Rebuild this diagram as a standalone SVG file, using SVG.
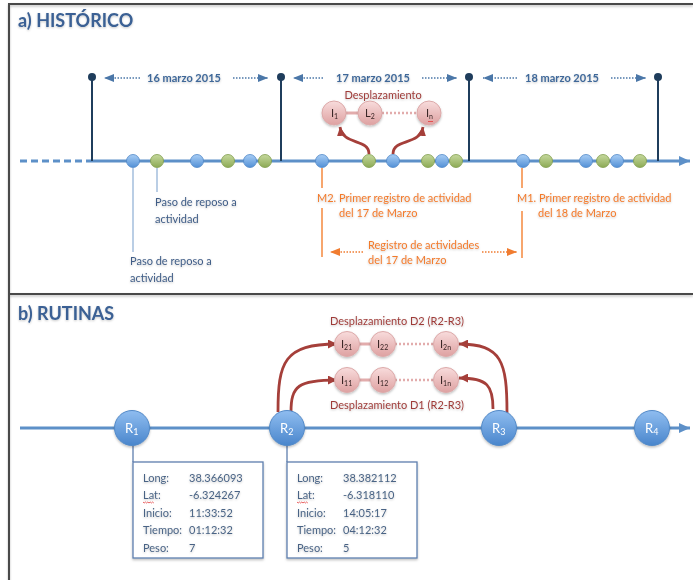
<svg xmlns="http://www.w3.org/2000/svg" width="693" height="580" viewBox="0 0 693 580">
<defs>
<style>
text{font-family:Lato,"Liberation Sans",sans-serif}
.title{font-size:18px;font-weight:bold;fill:#3a6094}
.date{font-size:11px;font-weight:bold;fill:#3f6899}
.lbl{font-size:11px;fill:#3f5c86}
.or{font-size:11px;fill:#f27a2c}
.red{font-size:11px;fill:#9e3b38}
.nt{font-size:11px;fill:#3a2626}
.rt{font-size:13px;fill:#ffffff}
.bx{font-size:11px;fill:#4a6485}
.post{stroke:#1f3d5c;stroke-width:2;fill:none}
.pdot{fill:#1f3d5c}
.tl{stroke:#5d90c8;stroke-width:3;fill:none}
.darr{stroke:#4b77a8;stroke-width:1.3;stroke-dasharray:1.5 1.5;fill:none}
.oarr{stroke:#f07c30;stroke-width:1.3;stroke-dasharray:1.5 1.5;fill:none}
.oline{stroke:#f5893f;stroke-width:1.5;fill:none}
.lb{stroke:#a4bedd;stroke-width:1.5;fill:none}
.rc{stroke:#a53f3a;stroke-width:2.8;fill:none}
.bdot{fill:url(#gb);stroke:#4f86c6;stroke-width:0.8}
.gdot{fill:url(#gg);stroke:#7f9c4a;stroke-width:0.8}
.pk{fill:url(#gp);stroke:#dca9a9;stroke-width:1}
.rn{fill:url(#gr);stroke:#5289c7;stroke-width:1}
.pl{stroke:#e2acac;stroke-width:3;fill:none}
.pld{stroke:#e2acac;stroke-width:2.5;stroke-dasharray:2 2;fill:none}
.box{fill:#ffffff;stroke:#5f7fae;stroke-width:1.3}
.frame{stroke:#4a4a4a;stroke-width:2;fill:none}
.sq{stroke:#e23a3a;stroke-width:0.8;fill:none}
</style>
<linearGradient id="gb" x1="0" y1="0" x2="0" y2="1"><stop offset="0" stop-color="#a9cef5"/><stop offset="1" stop-color="#5290d6"/></linearGradient>
<linearGradient id="gg" x1="0" y1="0" x2="0" y2="1"><stop offset="0" stop-color="#c6d99e"/><stop offset="1" stop-color="#8caa55"/></linearGradient>
<linearGradient id="gp" x1="0" y1="0" x2="0" y2="1"><stop offset="0" stop-color="#f8dcdc"/><stop offset="1" stop-color="#dea1a1"/></linearGradient>
<linearGradient id="gr" x1="0" y1="0" x2="0" y2="1"><stop offset="0" stop-color="#8fbdf0"/><stop offset="1" stop-color="#4a86cc"/></linearGradient>
<filter id="sh" x="-20%" y="-20%" width="140%" height="140%"><feDropShadow dx="0" dy="1.5" stdDeviation="1.2" flood-color="#000" flood-opacity="0.25"/></filter>
<filter id="tsh" x="-10%" y="-30%" width="120%" height="160%"><feDropShadow dx="0" dy="1" stdDeviation="0.8" flood-color="#000" flood-opacity="0.22"/></filter>
<marker id="mtl" markerUnits="userSpaceOnUse" markerWidth="12" markerHeight="10" refX="11" refY="5" orient="auto"><path d="M0,0 L11,5 L0,10 z" fill="#5d90c8"/></marker>
<marker id="mda" markerUnits="userSpaceOnUse" markerWidth="10" markerHeight="8" refX="10" refY="4" orient="auto"><path d="M0,0 L10,4 L0,8 z" fill="#4b77a8"/></marker>
<marker id="moa" markerUnits="userSpaceOnUse" markerWidth="10" markerHeight="8" refX="10" refY="4" orient="auto"><path d="M0,0 L10,4 L0,8 z" fill="#f07c30"/></marker>
<marker id="mrc" markerUnits="userSpaceOnUse" markerWidth="10" markerHeight="9" refX="9" refY="4.5" orient="auto"><path d="M0,0 L9,4.5 L0,9 z" fill="#a53f3a"/></marker>
</defs>
<rect width="693" height="580" fill="#ffffff"/>

<!-- frame -->
<g id="frame" filter="url(#sh)">
<path class="frame" d="M693,4 L9,4 L9,580"/>
<path class="frame" d="M9,294 L693,294"/>
</g>

<!-- ===== Section a ===== -->
<g id="title-a"><text class="title" x="18" y="27" filter="url(#tsh)">a) HISTÓRICO</text></g>

<g id="connectors-a">
<path class="tl" d="M20,161 L92,161" stroke-dasharray="7 4"/>
<path class="tl" d="M92,161 L690,161" marker-end="url(#mtl)"/>
<path class="post" d="M92,77 V161 M281,77 V161 M469,77 V161 M658,77 V161"/>
<path class="darr" d="M140,78 L104,78" marker-end="url(#mda)"/>
<path class="darr" d="M233,78 L268,78" marker-end="url(#mda)"/>
<path class="darr" d="M323,78 L293,78" marker-end="url(#mda)"/>
<path class="darr" d="M422,78 L457,78" marker-end="url(#mda)"/>
<path class="darr" d="M517,78 L483,78" marker-end="url(#mda)"/>
<path class="darr" d="M611,78 L646,78" marker-end="url(#mda)"/>
<path class="lb" d="M133,168 V252 M157,168 V192"/>
<path class="oline" d="M322,168 V188 M322,208 V257 M522,168 V188 M522,211 V258"/>
<path class="oarr" d="M363,252 L330,252" marker-end="url(#moa)"/>
<path class="oarr" d="M482,252 L517,252" marker-end="url(#moa)"/>
<path class="pl" d="M346,113 L358,113"/>
<path class="pld" d="M382,113 L417,113"/>
<path class="rc" d="M369,154 C369,138 343,146 340,127" marker-end="url(#mrc)"/>
<path class="rc" d="M393,154 C393,138 420,146 423,127" marker-end="url(#mrc)"/>
</g>

<g id="posts-a">
<circle class="pdot" cx="92" cy="77" r="4"/>
<circle class="pdot" cx="281" cy="77" r="4"/>
<circle class="pdot" cx="469" cy="77" r="4"/>
<circle class="pdot" cx="658" cy="77" r="4"/>
</g>

<g id="dates-a" filter="url(#tsh)">
<text class="date" x="184" y="82" text-anchor="middle">16 marzo 2015</text>
<text class="date" x="373" y="82" text-anchor="middle">17 marzo 2015</text>
<text class="date" x="562" y="82" text-anchor="middle">18 marzo 2015</text>
</g>

<g id="events-a">
<circle class="bdot" cx="133" cy="161" r="6.5"/>
<circle class="gdot" cx="157" cy="161" r="6.5"/>
<circle class="bdot" cx="197" cy="161" r="6.5"/>
<circle class="gdot" cx="228" cy="161" r="6.5"/>
<circle class="bdot" cx="250" cy="161" r="6.5"/>
<circle class="gdot" cx="265" cy="161" r="6.5"/>
<circle class="bdot" cx="322" cy="161" r="6.5"/>
<circle class="gdot" cx="369" cy="161" r="6.5"/>
<circle class="bdot" cx="393" cy="161" r="6.5"/>
<circle class="gdot" cx="428" cy="161" r="6.5"/>
<circle class="bdot" cx="442" cy="161" r="6.5"/>
<circle class="gdot" cx="456" cy="161" r="6.5"/>
<circle class="bdot" cx="523" cy="161" r="6.5"/>
<circle class="gdot" cx="546" cy="161" r="6.5"/>
<circle class="bdot" cx="586" cy="161" r="6.5"/>
<circle class="gdot" cx="603" cy="161" r="6.5"/>
<circle class="bdot" cx="617" cy="161" r="6.5"/>
<circle class="gdot" cx="640" cy="161" r="6.5"/>
</g>

<g id="labels-a" filter="url(#tsh)">
<text class="lbl" x="155" y="206">Paso de reposo a</text>
<text class="lbl" x="155" y="223">actividad</text>
<text class="lbl" x="130" y="265">Paso de reposo a</text>
<text class="lbl" x="130" y="282">actividad</text>
<text class="or" x="317" y="202">M2. Primer registro de actividad</text>
<text class="or" x="339" y="217">del 17 de Marzo</text>
<text class="or" x="517" y="202">M1. Primer registro de actividad</text>
<text class="or" x="538" y="217">del 18 de Marzo</text>
<text class="or" x="368" y="249">Registro de actividades</text>
<text class="or" x="368" y="264">del 17 de Marzo</text>
</g>

<g id="desplazamiento-a">
<text class="red" x="383" y="99" text-anchor="middle" filter="url(#tsh)">Desplazamiento</text>
<g id="node-I1" filter="url(#sh)"><circle class="pk" cx="334" cy="113" r="12"/><text class="nt" x="331" y="117">I<tspan font-size="7" dy="2">1</tspan></text></g>
<g id="node-L2" filter="url(#sh)"><circle class="pk" cx="370" cy="113" r="12"/><text class="nt" x="365" y="117">L<tspan font-size="7" dy="2">2</tspan></text></g>
<g id="node-In" filter="url(#sh)"><circle class="pk" cx="429" cy="113" r="12"/><text class="nt" x="426" y="117">I<tspan font-size="7" dy="2">n</tspan></text><path class="sq" d="M428,121 l1,1 l1,-1 l1,1 l1,-1 l1,1"/></g>
</g>

<!-- ===== Section b ===== -->
<g id="title-b"><text class="title" x="18" y="320" filter="url(#tsh)">b) RUTINAS</text></g>

<g id="connectors-b">
<path class="tl" d="M20,428 L690,428" marker-end="url(#mtl)"/>
<path class="rc" d="M278,412 C278,362 284,344 337,344" marker-end="url(#mrc)"/>
<path class="rc" d="M291,412 C291,386 298,380 337,380" marker-end="url(#mrc)"/>
<path class="rc" d="M507,413 C507,362 502,344 459,344" marker-end="url(#mrc)"/>
<path class="rc" d="M493,409 C493,386 488,378 459,378" marker-end="url(#mrc)"/>
<path class="pl" d="M359,344 L371,344 M359,380 L371,380"/>
<path class="pld" d="M395,344 L434,344 M395,380 L434,380"/>
<path stroke="#5f7fae" stroke-width="1.3" d="M133,445 V462 M287,445 V462"/>
</g>

<g id="desplazamiento-b" filter="url(#tsh)">
<text class="red" x="397" y="325" text-anchor="middle">Desplazamiento D2 (R2-R3)</text>
<text class="red" x="397" y="409" text-anchor="middle">Desplazamiento D1 (R2-R3)</text>
</g>

<g id="node-I21" filter="url(#sh)"><circle class="pk" cx="347" cy="344" r="12.5"/><text class="nt" x="341" y="348">I<tspan font-size="7" dy="2">21</tspan></text></g>
<g id="node-I22" filter="url(#sh)"><circle class="pk" cx="383" cy="344" r="12.5"/><text class="nt" x="377" y="348">I<tspan font-size="7" dy="2">22</tspan></text></g>
<g id="node-I2n" filter="url(#sh)"><circle class="pk" cx="446" cy="344" r="12.5"/><text class="nt" x="440" y="348">I<tspan font-size="7" dy="2">2n</tspan></text></g>
<g id="node-I11" filter="url(#sh)"><circle class="pk" cx="347" cy="380" r="12.5"/><text class="nt" x="341" y="384">I<tspan font-size="7" dy="2">11</tspan></text></g>
<g id="node-I12" filter="url(#sh)"><circle class="pk" cx="383" cy="380" r="12.5"/><text class="nt" x="377" y="384">I<tspan font-size="7" dy="2">12</tspan></text></g>
<g id="node-I1n" filter="url(#sh)"><circle class="pk" cx="446" cy="380" r="12.5"/><text class="nt" x="440" y="384">I<tspan font-size="7" dy="2">1n</tspan></text></g>

<g id="node-R1" filter="url(#sh)"><circle class="rn" cx="132" cy="428" r="17.5"/><text class="rt" x="125" y="433">R<tspan font-size="9" dy="2">1</tspan></text></g>
<g id="node-R2" filter="url(#sh)"><circle class="rn" cx="287" cy="428" r="17.5"/><text class="rt" x="280" y="433">R<tspan font-size="9" dy="2">2</tspan></text></g>
<g id="node-R3" filter="url(#sh)"><circle class="rn" cx="499" cy="428" r="17.5"/><text class="rt" x="492" y="433">R<tspan font-size="9" dy="2">3</tspan></text></g>
<g id="node-R4" filter="url(#sh)"><circle class="rn" cx="652" cy="428" r="17.5"/><text class="rt" x="645" y="433">R<tspan font-size="9" dy="2">4</tspan></text></g>

<g id="box-R1">
<rect class="box" x="133" y="462" width="130" height="96" filter="url(#sh)"/>
<g filter="url(#tsh)">
<text class="bx" x="143" y="482">Long:</text><text class="bx" x="189" y="482">38.366093</text>
<text class="bx" x="143" y="499">Lat:</text><text class="bx" x="189" y="499">-6.324267</text>
<text class="bx" x="143" y="517">Inicio:</text><text class="bx" x="189" y="517">11:33:52</text>
<text class="bx" x="143" y="534">Tiempo:</text><text class="bx" x="189" y="534">01:12:32</text>
<text class="bx" x="143" y="552">Peso:</text><text class="bx" x="189" y="552">7</text>
</g>
<path class="sq" d="M143,502 l1.2,1 l1.2,-1 l1.2,1 l1.2,-1 l1.2,1 l1.2,-1 l1.2,1 l1.2,-1 l1.2,1"/>
</g>

<g id="box-R2">
<rect class="box" x="287" y="462" width="130" height="96" filter="url(#sh)"/>
<g filter="url(#tsh)">
<text class="bx" x="297" y="482">Long:</text><text class="bx" x="343" y="482">38.382112</text>
<text class="bx" x="297" y="499">Lat:</text><text class="bx" x="343" y="499">-6.318110</text>
<text class="bx" x="297" y="517">Inicio:</text><text class="bx" x="343" y="517">14:05:17</text>
<text class="bx" x="297" y="534">Tiempo:</text><text class="bx" x="343" y="534">04:12:32</text>
<text class="bx" x="297" y="552">Peso:</text><text class="bx" x="343" y="552">5</text>
</g>
<path class="sq" d="M297,502 l1.2,1 l1.2,-1 l1.2,1 l1.2,-1 l1.2,1 l1.2,-1 l1.2,1 l1.2,-1 l1.2,1"/>
</g>
</svg>
